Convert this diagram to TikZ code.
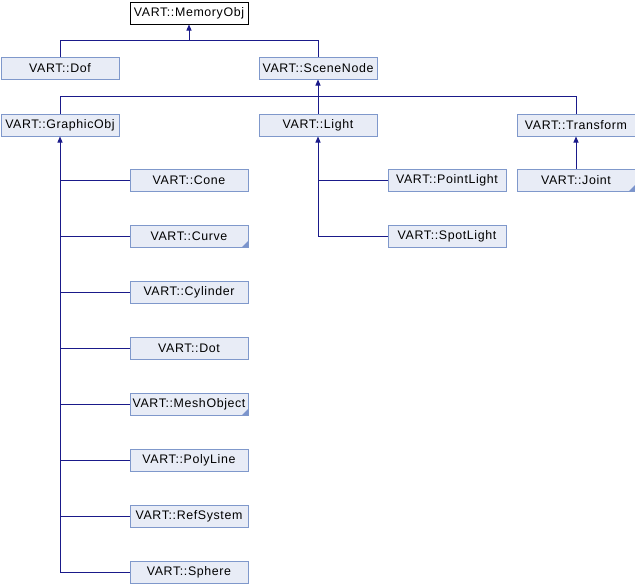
\documentclass[tikz,border=0pt]{standalone}
\usepackage{fontspec}
\setmainfont{Liberation Sans}[LetterSpace=5]
\usetikzlibrary{arrows.meta}
\definecolor{boxfill}{HTML}{E8ECF6}
\definecolor{boxline}{HTML}{7F98CB}
\definecolor{edgec}{HTML}{1A1A8A}
\definecolor{cornerc}{HTML}{7B94CC}
\tikzset{
  cls/.style={draw=boxline, fill=boxfill, line width=1pt, minimum width=118pt, minimum height=22pt,
    inner sep=0pt, anchor=north west, font=\fontsize{12.4}{14}\selectfont},
  topcls/.style={cls, draw=black, fill=white},
  link/.style={draw=edgec, line width=1pt},
  arr/.style={link, -{Triangle[width=5pt,length=6pt]}},
  corner/.style={fill=cornerc},
}
\begin{document}
\begin{tikzpicture}[x=1pt,y=-1pt]
\useasboundingbox[fill=white] (0,0) rectangle (635,584);
% nodes
\node[topcls] (memobj) at (129.5,1.5) {VART::MemoryObj};
\node[cls] (dof) at (0.5,56.5) {VART::Dof};
\node[cls] (scenenode) at (258.5,56.5) {VART::SceneNode};
\node[cls] (graphicobj) at (0.5,113.5) {VART::GraphicObj};
\node[cls] (light) at (258.5,113.5) {VART::Light};
\node[cls] (transform) at (516.5,113.5) {VART::Transform};
\node[cls] (pointlight) at (387.5,168.5) {VART::PointLight};
\node[cls] (joint) at (516.5,168.5) {VART::Joint};
\node[cls] (spotlight) at (387.5,224.5) {VART::SpotLight};
\node[cls] (cone) at (129.5,168.5) {VART::Cone};
\node[cls] (curve) at (129.5,224.5) {VART::Curve};
\node[cls] (cylinder) at (129.5,280.5) {VART::Cylinder};
\node[cls] (dot) at (129.5,336.5) {VART::Dot};
\node[cls] (meshobject) at (129.5,392.5) {VART::MeshObject};
\node[cls] (polyline) at (129.5,448.5) {VART::PolyLine};
\node[cls] (refsystem) at (129.5,504.5) {VART::RefSystem};
\node[cls] (sphere) at (129.5,560.5) {VART::Sphere};
% corner marks
\foreach \n in {curve,meshobject,joint}{
  \fill[corner] ([shift={(-0.5,-0.5)}]\n.south east) -- ++(-6,0) -- ++(6,-6) -- cycle;
}
% junction points
\coordinate (j1) at (memobj.south |- 0,40.5);
\coordinate (j2) at (scenenode.south |- 0,96.5);
% connectors
\draw[link] (dof.north) |- (j1) -| (scenenode.north);
\draw[arr] (j1) -- (memobj.south);
\draw[link] (graphicobj.north) |- (j2) -| (transform.north);
\draw[link] (light.north) -- (j2);
\draw[arr] (j2) -- (scenenode.south);
\draw[arr] (sphere.west) -| (graphicobj.south);
\foreach \n in {cone,curve,cylinder,dot,meshobject,polyline,refsystem}{
  \draw[link] (\n.west) -- (\n.west -| graphicobj.south);
}
\draw[arr] (spotlight.west) -| (light.south);
\draw[link] (pointlight.west) -- (pointlight.west -| light.south);
\draw[arr] (joint.north) -- (transform.south);
\end{tikzpicture}
\end{document}
